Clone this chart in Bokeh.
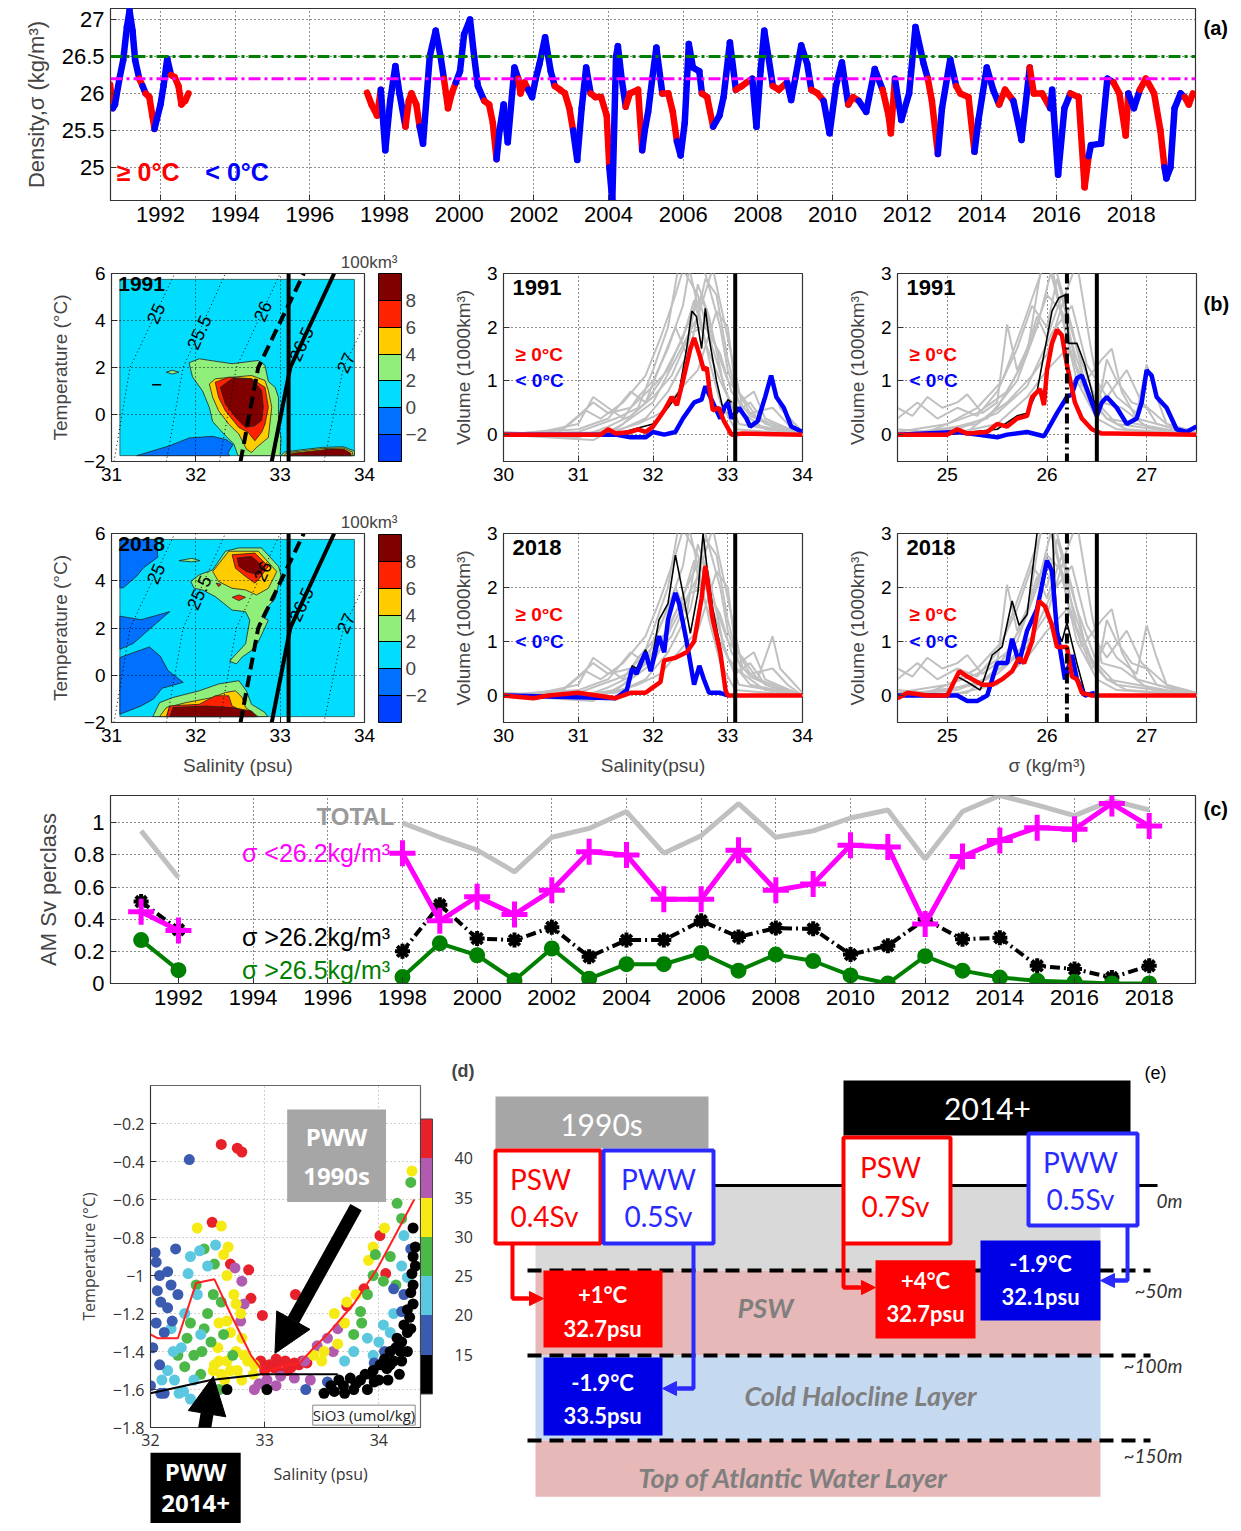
import numpy as np
from bokeh.plotting import figure
from bokeh.layouts import column, row
from bokeh.models import (Range1d, FixedTicker, Label, ColorBar, Spacer,
                          LinearColorMapper, Arrow, NormalHead, ColumnDataSource, Span)
from bokeh.transform import linear_cmap
from bokeh.core.properties import value
from bokeh.embed import file_html
from bokeh.resources import INLINE

FONT = "Liberation Sans"
SCHEM = "Lato"

# ======================= DATA =======================
# (a) density time series: time, sigma, cold flag (1 = T<0C)
t_a = [1990.65, 1990.72, 1990.78, 1990.90, 1991.00, 1991.10, 1991.17, 1991.25, 1991.32, 1991.43,
       1991.52, 1991.60, 1991.70, 1991.78, 1991.84, 1991.90, 1992.00, 1992.08, 1992.18, 1992.28,
       1992.38, 1992.48, 1992.56, 1992.66, 1992.75,
       1997.53, 1997.65, 1997.80, 1997.90, 1998.02, 1998.15, 1998.29, 1998.40, 1998.56, 1998.65,
       1998.72, 1998.85, 1998.94, 1999.03, 1999.21, 1999.37, 1999.50, 1999.59, 1999.70, 1999.80,
       1999.91, 2000.02, 2000.13, 2000.29, 2000.40, 2000.50, 2000.67, 2000.80, 2000.90, 2001.00,
       2001.08, 2001.19, 2001.30, 2001.48, 2001.58, 2001.64, 2001.75, 2001.85, 2001.95, 2002.05,
       2002.15, 2002.30, 2002.45, 2002.56, 2002.70, 2002.83, 2002.95, 2003.05, 2003.16, 2003.28,
       2003.40, 2003.52, 2003.65, 2003.80, 2003.95, 2004.02, 2004.10, 2004.20, 2004.25, 2004.35,
       2004.46, 2004.57, 2004.79, 2004.90, 2004.97, 2005.06, 2005.17, 2005.28, 2005.44, 2005.60,
       2005.72, 2005.83, 2005.93, 2006.04, 2006.15, 2006.26, 2006.43, 2006.50, 2006.64, 2006.80,
       2006.97, 2007.08, 2007.25, 2007.41, 2007.57, 2007.70, 2007.85, 2007.96, 2008.07, 2008.17,
       2008.28, 2008.40, 2008.56, 2008.78, 2008.89, 2009.00, 2009.16, 2009.32, 2009.43, 2009.60,
       2009.76, 2009.92, 2010.09, 2010.25, 2010.42, 2010.55, 2010.70, 2010.90, 2011.13, 2011.34,
       2011.50, 2011.56, 2011.67, 2011.84, 2012.05, 2012.22, 2012.44, 2012.55, 2012.66, 2012.82,
       2012.93, 2013.15, 2013.31, 2013.42, 2013.64, 2013.80, 2013.91, 2014.13, 2014.30, 2014.46,
       2014.62, 2014.84, 2014.95, 2015.06, 2015.28, 2015.39, 2015.61, 2015.83, 2015.88, 2016.04,
       2016.21, 2016.37, 2016.59, 2016.75, 2016.86, 2016.92, 2017.19, 2017.36, 2017.52, 2017.68,
       2017.85, 2017.92, 2018.07, 2018.23, 2018.39, 2018.61, 2018.78, 2018.89, 2018.94, 2019.05,
       2019.16, 2019.32, 2019.43, 2019.54, 2019.65]
sig_a = [26.12, 25.80, 25.85, 26.20, 26.45, 26.90, 27.12, 26.85, 26.45, 26.20,
         26.10, 26.00, 25.95, 25.70, 25.52, 25.65, 25.85, 26.10, 26.47, 26.25,
         26.22, 26.10, 25.85, 25.90, 26.00,
         26.01, 25.85, 25.70, 26.05, 25.23, 25.90, 26.37, 26.00, 25.55, 25.90,
         26.00, 25.85, 25.55, 25.32, 26.50, 26.85, 26.50, 26.20, 25.80, 26.00,
         26.15, 26.30, 26.80, 27.00, 26.50, 26.10, 25.90, 25.85, 25.60, 25.11,
         25.50, 25.85, 25.34, 26.35, 26.20, 26.00, 26.15, 26.05, 25.95, 26.20,
         26.40, 26.76, 26.30, 26.10, 26.05, 26.00, 25.80, 25.50, 25.10, 25.80,
         26.35, 26.00, 25.95, 25.95, 25.70, 25.00, 24.55, 26.50, 26.64, 26.20,
         25.82, 26.00, 26.05, 25.23, 25.50, 25.75, 26.20, 26.62, 26.00, 26.00,
         25.75, 25.35, 25.16, 25.60, 26.67, 26.35, 26.30, 26.00, 25.95, 25.55,
         25.70, 25.95, 26.69, 26.05, 26.10, 26.15, 26.20, 25.55, 26.30, 26.85,
         26.50, 26.10, 26.05, 26.15, 25.91, 26.20, 26.65, 26.40, 26.05, 26.00,
         25.90, 25.46, 26.10, 26.42, 25.85, 25.95, 25.90, 25.75, 26.33, 26.05,
         25.70, 25.46, 26.20, 25.64, 26.00, 26.90, 26.40, 26.20, 25.90, 25.18,
         25.80, 26.46, 26.10, 26.00, 25.95, 25.21, 25.65, 26.35, 26.05, 25.85,
         26.05, 25.90, 25.65, 25.37, 26.35, 26.00, 26.00, 25.80, 26.05, 24.90,
         25.80, 26.00, 25.95, 24.73, 25.15, 25.30, 25.32, 26.20, 26.15, 26.00,
         25.43, 26.00, 25.80, 26.05, 26.20, 26.00, 25.50, 25.00, 24.85, 25.00,
         25.80, 26.00, 25.95, 25.85, 26.00]
cold_a = [0, 0, 1, 1, 1, 1, 1, 1, 1, 1,
          0, 1, 0, 0, 0, 1, 1, 1, 1, 1,
          0, 0, 0, 0, 0,
          0, 0, 0, 0, 1, 1, 1, 1, 1, 0,
          0, 0, 0, 1, 1, 1, 1, 1, 0, 0,
          0, 1, 1, 1, 1, 1, 1, 0, 0, 0,
          1, 1, 1, 1, 1, 0, 0, 0, 1, 1,
          1, 1, 1, 1, 0, 0, 0, 0, 1, 1,
          1, 1, 0, 0, 0, 0, 1, 1, 1, 1,
          1, 0, 0, 0, 1, 1, 1, 1, 1, 0,
          0, 0, 1, 1, 1, 1, 1, 1, 0, 0,
          1, 1, 1, 1, 0, 0, 0, 1, 1, 1,
          1, 1, 0, 0, 1, 1, 1, 1, 1, 0,
          0, 1, 1, 1, 1, 0, 0, 1, 1, 1,
          0, 0, 0, 1, 1, 1, 1, 1, 0, 0,
          1, 1, 1, 0, 0, 0, 1, 1, 1, 1,
          0, 0, 1, 1, 1, 0, 0, 0, 1, 1,
          1, 1, 0, 0, 0, 1, 1, 1, 1, 0,
          0, 0, 1, 1, 0, 0, 0, 0, 1, 1,
          1, 1, 1, 0, 0]
thr_psw = 26.2
thr_pww = 26.5
years_a_ticks = list(range(1992, 2019, 2))

# (b) contour polygons (salinity, temperature); level index 0:-4..-2 1:-2..0 2:0..2 3:2..4 4:4..6 5:6..8 6:8..10
cb_levels = [-4, -2, 0, 2, 4, 6, 8, 10]
cont91_level = [1, 3, 3, 4, 5, 6, 3, 4, 6]
cont91_poly = [
    [(31.3, -1.75), (31.69, -1.33), (31.92, -1.0), (32.2, -0.93), (32.36, -1.07), (32.44, -1.28), (32.38, -1.64), (32.4, -1.75)],
    [(31.92, 2.2), (32.04, 2.37), (32.43, 2.16), (32.74, 2.3), (32.82, 2.09), (32.86, 1.4), (32.94, 1.16), (32.98, 0.73),
     (32.98, -0.4), (33.01, -1.0), (33.0, -1.75), (32.5, -1.75), (32.45, -1.25), (32.35, -0.9), (32.2, -0.3), (32.16, 0.3),
     (32.08, 1.0), (31.96, 1.6)],
    [(31.65, 1.8), (31.72, 1.88), (31.8, 1.8), (31.72, 1.72)],
    [(32.16, 1.3), (32.23, 1.52), (32.66, 1.66), (32.82, 1.45), (32.86, 1.02), (32.9, 0.31), (32.86, -0.98), (32.72, -1.4),
     (32.66, -1.62), (32.6, -1.47), (32.51, -0.83), (32.39, -0.41), (32.27, 0.16), (32.2, 0.73)],
    [(32.23, 1.37), (32.39, 1.59), (32.66, 1.52), (32.82, 1.16), (32.86, 0.31), (32.82, -0.41), (32.78, -0.76), (32.7, -1.12),
     (32.62, -0.76), (32.51, -0.55), (32.35, 0.16), (32.27, 0.73)],
    [(32.29, 1.16), (32.43, 1.52), (32.66, 1.52), (32.78, 1.02), (32.8, 0.31), (32.78, -0.26), (32.7, -0.48), (32.59, -0.55),
     (32.47, -0.12), (32.35, 0.45)],
    [(33.01, -1.75), (33.05, -1.6), (33.25, -1.5), (33.5, -1.4), (33.75, -1.37), (33.88, -1.55), (33.88, -1.75)],
    [(33.04, -1.75), (33.08, -1.63), (33.3, -1.53), (33.5, -1.45), (33.75, -1.42), (33.86, -1.6), (33.86, -1.75)],
    [(33.08, -1.75), (33.15, -1.65), (33.4, -1.55), (33.6, -1.47), (33.75, -1.47), (33.84, -1.65), (33.84, -1.75)],
]
cont18_level = [1, 1, 1, 3, 3, 4, 5, 6, 5, 5, 3, 4, 5, 6]
cont18_poly = [
    [(31.1, 5.75), (31.53, 5.75), (31.55, 5.0), (31.38, 4.55), (31.3, 4.2), (31.14, 3.7), (31.1, 3.7)],
    [(31.1, 2.5), (31.35, 2.35), (31.69, 2.69), (31.45, 1.95), (31.26, 1.35), (31.1, 1.1)],
    [(31.1, 0.75), (31.45, 1.2), (31.58, 0.8), (31.67, 0.2), (31.85, -0.3), (31.6, -0.55), (31.5, -1.0), (31.35, -1.3), (31.1, -1.65)],
    [(31.94, 3.97), (32.04, 4.25), (32.2, 4.46), (32.35, 5.25), (32.51, 5.39), (32.78, 5.39), (32.98, 4.61), (33.01, 4.25),
     (32.94, 3.25), (32.82, 2.76), (32.78, 2.47), (32.86, 2.33), (32.74, 1.41), (32.66, 1.05), (32.55, 0.77), (32.48, 0.48),
     (32.4, 0.6), (32.48, 0.91), (32.59, 1.33), (32.64, 2.33), (32.59, 2.69), (32.43, 2.76), (32.23, 3.33), (32.08, 3.61),
     (31.98, 3.68)],
    [(31.8, 4.85), (31.95, 4.95), (32.05, 4.85), (31.95, 4.8)],
    [(32.2, 4.39), (32.39, 5.25), (32.74, 5.25), (32.96, 4.39), (32.86, 3.68), (32.72, 3.4), (32.59, 3.61), (32.43, 3.68), (32.27, 3.97)],
    [(32.43, 5.1), (32.7, 5.17), (32.86, 4.61), (32.74, 4.04), (32.7, 3.9), (32.59, 4.18), (32.47, 4.53)],
    [(32.49, 4.96), (32.66, 5.03), (32.82, 4.53), (32.74, 4.25), (32.6, 4.39), (32.51, 4.61)],
    [(32.43, 3.3), (32.51, 3.4), (32.59, 3.3), (32.51, 3.16)],
    [(32.24, 3.9), (32.3, 3.85), (32.27, 3.75)],
    [(31.49, -1.75), (31.57, -1.16), (31.73, -0.94), (32.04, -0.66), (32.27, -0.37), (32.51, -0.23), (32.6, -0.66),
     (32.66, -1.23), (32.82, -1.58), (32.85, -1.75)],
    [(31.57, -1.75), (31.65, -1.37), (31.88, -1.16), (32.2, -0.94), (32.35, -0.73), (32.47, -0.66), (32.55, -0.94),
     (32.59, -1.37), (32.74, -1.75)],
    [(31.65, -1.75), (31.69, -1.3), (32.04, -1.23), (32.23, -0.87), (32.39, -0.87), (32.43, -1.3), (32.55, -1.51), (32.7, -1.75)],
    [(31.69, -1.75), (31.73, -1.37), (32.12, -1.3), (32.43, -1.37), (32.66, -1.51), (32.72, -1.75)],
]
# isopycnals: salinity at T = -2, 2, 6
iso_T = [-2, 2, 6]
iso_sig = ["25", "25.5", "26", "26.5", "27"]
iso_S = [[31.03, 31.22, 31.75], [31.65, 31.85, 32.35], [32.28, 32.48, 33.0],
         [32.90, 33.12, 33.64], [33.52, 33.75, 34.3]]
iso_label_T = [4.3, 3.5, 4.4, 3.0, 2.2]
iso262_S = [32.53, 32.74, 33.28]
s_psw_pww = 33.1

# (b) volume distributions (1000 km3)
gray_S = [
    [(30, 0), (30.5, 0.05), (31, 0.2), (31.2, 0.7), (31.4, 0.5), (31.6, 0.3), (31.8, 0.7), (32.0, 1.0), (32.2, 1.6), (32.4, 2.4), (32.5, 3.2), (32.7, 3.0), (32.9, 2.0), (33.0, 1.2), (33.2, 0.4), (33.5, 0.1), (34, 0)],
    [(30, 0), (31, 0.05), (31.5, 0.3), (31.8, 0.5), (32.0, 1.2), (32.2, 2.0), (32.35, 3.2), (32.6, 2.6), (32.8, 1.6), (33.0, 0.7), (33.3, 0.2), (34, 0)],
    [(30, 0), (31, 0), (31.5, 0.1), (32.0, 0.6), (32.3, 1.4), (32.6, 2.2), (32.8, 3.1), (33.0, 1.8), (33.2, 0.5), (33.4, 0.3), (33.6, 1.1), (33.7, 0.5), (34, 0.05)],
    [(30, 0), (31.2, -0.1), (31.6, 0.2), (31.9, 0.6), (32.1, 1.0), (32.4, 1.8), (32.55, 2.5), (32.7, 1.7), (32.9, 1.0), (33.1, 0.4), (33.3, 0.6), (33.5, 0.2), (34, 0)],
    [(30, 0), (31, 0.1), (31.4, 0.3), (31.7, 0.8), (31.9, 0.6), (32.1, 1.3), (32.3, 2.0), (32.45, 1.5), (32.6, 2.8), (32.75, 2.2), (32.95, 0.9), (33.15, 0.2), (34, 0)],
    [(30, 0), (31.3, 0), (31.8, 0.2), (32.1, 0.4), (32.4, 0.9), (32.6, 1.2), (32.85, 2.3), (33.0, 2.0), (33.1, 0.9), (33.3, 0.4), (33.6, 0.5), (33.8, 0.2), (34, 0)],
    [(30, 0.05), (30.7, 0.0), (31.0, 0.35), (31.2, 0.6), (31.4, 0.4), (31.7, 0.5), (32.0, 0.9), (32.2, 1.2), (32.45, 2.0), (32.65, 2.6), (32.8, 1.8), (33.0, 1.0), (33.2, 0.7), (33.4, 0.3), (34, 0.0)],
    [(30, 0), (30.8, 0.1), (31.1, 0.45), (31.3, 0.3), (31.6, 0.6), (31.9, 1.1), (32.1, 1.8), (32.3, 2.6), (32.45, 3.3), (32.6, 2.4), (32.75, 1.4), (32.9, 0.6), (33.1, 0.1), (34, 0)],
    [(30, 0), (31.5, 0.05), (31.9, 0.3), (32.2, 0.8), (32.5, 1.6), (32.7, 2.9), (32.85, 2.6), (33.0, 1.4), (33.15, 0.6), (33.35, 0.8), (33.5, 0.3), (34, 0)],
    [(30, 0), (31.0, -0.05), (31.4, 0.15), (31.7, 0.35), (32.0, 0.7), (32.25, 1.1), (32.5, 1.9), (32.7, 2.0), (32.9, 1.5), (33.05, 0.8), (33.3, 0.35), (33.6, 0.15), (34, 0)],
]
gray_sig = [
    [(24.5, 0.5), (24.65, 0.35), (24.8, 0.7), (24.95, 0.5), (25.1, 0.6), (25.2, 0.75), (25.35, 0.4), (25.5, 0.6), (25.6, 2.05), (25.7, 1.2), (25.85, 1.8), (26.0, 2.6), (26.15, 2.3), (26.3, 1.4), (26.45, 0.6), (26.6, 0.3), (27.5, 0.0)],
    [(24.5, 0.1), (24.8, 0.05), (25.0, 0.2), (25.3, 0.4), (25.6, 0.8), (25.8, 1.5), (25.95, 3.2), (26.1, 3.0), (26.25, 2.0), (26.4, 0.8), (26.6, 0.3), (26.8, 0.1), (27.5, 0)],
    [(24.5, 0), (25.0, 0.1), (25.4, 0.3), (25.7, 1.0), (25.9, 2.0), (26.05, 3.1), (26.2, 1.8), (26.35, 0.9), (26.55, 1.4), (26.65, 1.6), (26.75, 0.8), (26.9, 0.3), (27.5, 0)],
    [(24.5, 0), (25.2, 0.05), (25.5, 0.5), (25.75, 1.3), (25.9, 2.2), (26.0, 1.8), (26.15, 2.6), (26.3, 1.2), (26.45, 0.5), (26.6, 1.0), (26.7, 0.7), (26.9, 0.4), (27.0, 1.3), (27.1, 0.7), (27.2, 0.2), (27.5, 0.05)],
    [(24.5, 0), (24.9, 0.1), (25.3, 0.2), (25.6, 0.6), (25.85, 1.1), (26.0, 1.5), (26.2, 2.7), (26.3, 3.2), (26.45, 1.5), (26.55, 0.6), (26.75, 0.5), (27.0, 0.15), (27.3, 0.0), (27.4, 0.1), (27.5, 0)],
    [(24.5, 0), (25.0, 0.0), (25.5, 0.2), (25.8, 0.7), (26.0, 1.2), (26.2, 1.6), (26.4, 0.9), (26.5, 0.4), (26.6, 1.4), (26.7, 1.0), (26.85, 0.6), (27.0, 0.5), (27.1, 0.2), (27.5, 0)],
    [(24.5, 0.05), (25.0, 0.2), (25.3, 0.5), (25.55, 1.0), (25.75, 2.0), (25.9, 2.8), (26.0, 3.3), (26.15, 2.2), (26.3, 1.0), (26.5, 0.3), (26.7, 0.1), (27.5, 0)],
    [(24.5, 0), (25.1, 0.1), (25.5, 0.4), (25.8, 0.9), (26.05, 1.9), (26.25, 2.4), (26.4, 1.3), (26.6, 0.7), (26.8, 1.2), (26.95, 0.6), (27.2, 0.2), (27.5, 0)],
    [(24.5, 0.3), (24.7, 0.6), (24.9, 0.3), (25.1, 0.5), (25.3, 0.35), (25.5, 0.8), (25.7, 1.6), (25.85, 2.4), (26.0, 2.0), (26.1, 2.9), (26.3, 1.6), (26.5, 0.6), (26.7, 0.2), (27.5, 0)],
]
v91_S_total = [(30, 0), (31.3, 0), (31.6, 0.05), (32.0, 0.2), (32.2, 0.5), (32.35, 0.8), (32.45, 1.6), (32.52, 2.3), (32.58, 2.2), (32.65, 1.6), (32.7, 2.35), (32.75, 1.8), (32.85, 1.0), (32.95, 0.4), (33.0, 0.65), (33.05, 0.6)]
v91_S_warm = [(30, 0), (31.3, 0), (31.4, 0.1), (31.5, 0.02), (31.7, 0.05), (31.8, 0.1), (31.9, 0.05), (32.0, 0.15), (32.05, 0.25), (32.15, 0.45), (32.25, 0.7), (32.32, 0.55), (32.4, 1.0), (32.5, 1.6), (32.55, 1.8), (32.62, 1.5), (32.68, 1.2), (32.72, 1.25), (32.75, 0.9), (32.8, 0.45), (32.88, 0.5), (32.95, 0.25), (33.05, 0.0), (33.2, 0.02), (34, 0.0)]
v91_S_cold = [(30, 0), (31.5, 0), (31.7, -0.05), (31.9, -0.05), (32.0, 0.05), (32.15, 0.0), (32.3, 0.05), (32.4, 0.3), (32.55, 0.6), (32.65, 0.65), (32.7, 0.9), (32.8, 0.6), (32.9, 0.3), (32.95, 0.5), (33.0, 0.6), (33.05, 0.3), (33.15, 0.5), (33.25, 0.3), (33.3, 0.15), (33.4, 0.25), (33.5, 0.7), (33.58, 1.1), (33.65, 0.7), (33.75, 0.5), (33.85, 0.15), (34, 0.05)]
v91_sig_total = [(24.5, 0), (25.0, 0), (25.5, 0.1), (25.7, 0.35), (25.8, 0.4), (25.9, 0.8), (26.05, 2.3), (26.12, 2.55), (26.18, 2.6), (26.22, 1.7), (26.3, 1.7), (26.38, 1.3), (26.45, 0.8), (26.5, 0.4)]
v91_sig_warm = [(24.5, 0), (25.0, 0), (25.1, 0.1), (25.2, 0.02), (25.4, 0.05), (25.5, 0.2), (25.6, 0.15), (25.7, 0.3), (25.8, 0.35), (25.85, 0.7), (25.93, 0.85), (25.97, 0.55), (26.0, 1.2), (26.05, 1.7), (26.1, 1.95), (26.15, 1.85), (26.2, 1.3), (26.28, 0.6), (26.35, 0.3), (26.45, 0.1), (26.55, 0.02), (26.65, 0.02), (27.5, 0)]
v91_sig_cold = [(24.5, 0), (25.1, 0.05), (25.3, 0.0), (25.5, -0.05), (25.6, 0.0), (25.8, 0.05), (25.97, -0.03), (26.1, 0.4), (26.2, 0.7), (26.25, 0.75), (26.3, 1.05), (26.35, 1.1), (26.45, 0.6), (26.5, 0.35), (26.55, 0.6), (26.6, 0.7), (26.7, 0.5), (26.8, 0.2), (26.9, 0.3), (26.95, 0.6), (27.0, 1.2), (27.05, 1.1), (27.1, 0.7), (27.2, 0.5), (27.3, 0.1), (27.4, 0.05), (27.5, 0.15)]
v18_S_total = [(31.65, 0.1), (31.72, 0.55), (31.78, 0.5), (31.9, 0.85), (31.97, 0.55), (32.08, 1.4), (32.2, 1.7), (32.3, 2.6), (32.4, 1.9), (32.5, 1.15), (32.6, 1.9), (32.67, 3.0), (32.72, 2.4), (32.8, 1.6), (32.9, 0.9), (32.97, 0.2)]
v18_S_warm = [(30, 0), (30.4, -0.05), (30.6, 0), (31.0, 0.05), (31.5, -0.05), (31.7, 0.05), (31.9, 0.05), (32.0, 0.15), (32.1, 0.25), (32.15, 0.65), (32.3, 0.7), (32.45, 0.8), (32.55, 1.0), (32.65, 1.8), (32.7, 2.4), (32.75, 1.9), (32.8, 1.4), (32.9, 0.8), (32.97, 0.1), (33.0, 0), (34, 0)]
v18_S_cold = [(30, 0), (31.5, -0.05), (31.65, 0.1), (31.72, 0.5), (31.78, 0.4), (31.9, 0.8), (31.97, 0.45), (32.08, 1.1), (32.15, 0.8), (32.2, 1.4), (32.3, 1.9), (32.35, 1.7), (32.45, 1.0), (32.55, 0.2), (32.62, 0.55), (32.68, 0.3), (32.75, 0.05), (32.9, 0.05), (33.0, 0)]
v18_sig_total = [(25.0, 0), (25.1, 0.35), (25.2, 0.25), (25.33, 0.1), (25.45, 0.75), (25.55, 0.9), (25.65, 1.75), (25.72, 1.3), (25.8, 1.5), (25.9, 3.0), (26.0, 3.3), (26.05, 3.2), (26.1, 1.2), (26.15, 1.0), (26.2, 1.35), (26.3, 0.6), (26.38, 0.05)]
v18_sig_warm = [(24.5, -0.05), (24.6, 0.05), (24.8, 0.0), (25.0, 0.0), (25.08, 0.3), (25.12, 0.45), (25.2, 0.35), (25.35, 0.2), (25.45, 0.2), (25.55, 0.3), (25.65, 0.45), (25.72, 0.7), (25.77, 0.6), (25.85, 1.0), (25.92, 1.75), (25.98, 1.65), (26.05, 1.3), (26.1, 0.9), (26.2, 0.9), (26.25, 0.35), (26.3, 0.3), (26.35, 0.05), (26.45, 0.0), (27.5, 0)]
v18_sig_cold = [(24.5, 0), (25.0, 0), (25.1, 0.0), (25.2, -0.1), (25.3, -0.1), (25.4, 0.0), (25.45, 0.3), (25.5, 0.6), (25.6, 0.6), (25.65, 1.05), (25.72, 0.6), (25.8, 1.2), (25.9, 1.6), (26.0, 2.5), (26.05, 2.3), (26.1, 1.2), (26.18, 0.3), (26.25, 0.75), (26.3, 0.3), (26.38, 0.0), (26.48, 0.05)]

# (c) annual mean transports per class (Sv)
years_c = [1991, 1992, 1998, 1999, 2000, 2001, 2002, 2003, 2004, 2005, 2006, 2007, 2008,
           2009, 2010, 2011, 2012, 2013, 2014, 2015, 2016, 2017, 2018]
total_c = [0.95, 0.66, 1.0, 0.91, 0.83, 0.695, 0.91, 0.965, 1.07, 0.81, 0.92, 1.12, 0.91,
           0.95, 1.03, 1.08, 0.775, 1.07, 1.17, 1.11, 1.045, 1.14, 1.08]
light_c = [0.446, 0.33, 0.81, 0.39, 0.54, 0.43, 0.58, 0.82, 0.80, 0.525, 0.525, 0.83, 0.58,
           0.62, 0.86, 0.85, 0.37, 0.79, 0.89, 0.97, 0.96, 1.12, 0.98]
dense_c = [0.51, 0.335, 0.2, 0.49, 0.28, 0.27, 0.35, 0.166, 0.27, 0.27, 0.39, 0.29, 0.345,
           0.34, 0.18, 0.235, 0.40, 0.275, 0.285, 0.11, 0.09, 0.037, 0.11]
vdense_c = [0.27, 0.083, 0.04, 0.25, 0.176, 0.02, 0.218, 0.03, 0.12, 0.12, 0.19, 0.08, 0.18,
            0.14, 0.05, 0.0, 0.17, 0.08, 0.037, 0.017, 0.01, 0.0, 0.0]

# (d) T-S scatter, one list per SiO3 class (umol/kg)
si_classes = [42, 37, 32, 27, 22, 17, 12]
si42_pts = [(32.62, -0.31), (32.76, -0.33), (32.8, -0.35), (32.54, -0.72), (32.7, -0.94), (32.86, -0.97), (32.88, -1.12),
            (32.98, -1.21), (33.27, -1.1), (34.01, -0.79), (34.06, -0.99), (33.87, -1.07), (33.72, -1.16),
            (32.965, -1.45), (33.04, -1.47), (33.11, -1.46), (33.18, -1.45), (33.26, -1.46), (33.33, -1.45),
            (33.08, -1.485), (33.23, -1.485), (33.37, -1.46), (33.14, -1.51), (33.0, -1.5), (33.2, -1.5),
            (33.3, -1.47), (33.1, -1.44)]
si37_pts = [(32.8, -1.03), (32.74, -0.96), (32.79, -1.24), (32.91, -1.6), (33.02, -1.55), (33.14, -1.53), (33.26, -1.54),
            (33.55, -1.33), (33.46, -1.37), (33.64, -1.28), (32.82, -1.15), (32.95, -1.57), (33.1, -1.58),
            (33.35, -1.45), (33.4, -1.55), (33.6, -1.4)]
si32_pts = [(32.41, -0.75), (32.62, -0.74), (32.64, -0.89), (32.67, -1.0), (32.73, -1.1), (32.79, -1.2), (32.8, -1.33),
            (32.67, -1.24), (32.59, -1.38), (32.56, -1.47), (32.67, -1.45), (32.82, -1.42), (32.91, -1.47), (32.76, -1.5),
            (32.62, -1.52), (34.29, -0.45), (33.91, -0.92), (33.72, -1.14), (33.61, -1.2), (33.52, -1.4), (33.43, -1.42),
            (33.64, -1.36), (32.6, -1.45), (32.7, -1.5), (32.75, -1.4), (32.85, -1.45), (32.9, -1.52), (32.8, -1.55),
            (32.65, -1.55), (32.55, -1.5), (32.7, -1.3), (32.6, -1.25), (32.75, -1.15), (32.68, -0.85), (33.5, -1.45),
            (33.7, -1.25), (33.8, -1.1), (34.05, -0.75), (33.95, -0.85)]
si27_pts = [(32.47, -0.86), (32.56, -0.94), (32.62, -1.14), (32.47, -1.28), (32.53, -1.35), (32.38, -1.42), (32.24, -1.42),
            (32.44, -1.52), (32.32, -1.33), (32.72, -1.42), (32.64, -1.31), (34.16, -0.62), (34.28, -0.51), (33.97, -0.89),
            (34.04, -1.03), (33.84, -1.19), (33.9, -1.1), (33.78, -1.31), (32.35, -1.25), (32.45, -1.4), (32.5, -1.2),
            (32.4, -1.05), (32.3, -1.48), (32.55, -1.1), (32.6, -1.6), (33.95, -1.0), (34.1, -0.9), (34.15, -1.05),
            (33.85, -1.25), (34.2, -0.7)]
si22_pts = [(32.43, -0.87), (32.33, -0.99), (32.41, -1.1), (32.57, -0.84), (32.18, -1.28), (32.27, -1.38), (32.15, -1.5),
            (32.21, -1.55), (32.29, -1.61), (32.38, -1.55), (32.44, -1.31), (34.22, -0.79), (34.13, -1.2), (34.04, -1.26),
            (33.9, -1.33), (33.78, -1.4), (34.25, -1.01), (32.1, -1.55), (32.25, -1.62), (32.35, -1.65), (32.2, -1.4),
            (32.3, -1.2), (32.35, -0.9), (32.5, -0.95), (34.1, -1.3), (34.0, -1.35), (33.95, -1.42), (34.2, -0.95),
            (33.7, -1.45)]
si17_pts = [(32.34, -0.39), (32.04, -0.88), (32.05, -0.93), (32.22, -0.86), (32.15, -0.98), (32.06, -1.08), (32.09, -1.14),
            (32.15, -1.17), (32.24, -1.1), (32.19, -1.24), (32.02, -1.38), (32.08, -1.47), (32.0, -1.58), (32.09, -1.62),
            (33.36, -1.6), (33.55, -1.56), (34.13, -1.07), (34.2, -1.19), (33.96, -1.46), (34.28, -0.86), (32.05, -1.25),
            (32.12, -1.3), (32.08, -1.0), (32.18, -1.05), (32.12, -1.62), (34.05, -1.4), (34.22, -1.1)]
si12_pts = [(33.61, -1.61), (33.69, -1.58), (33.78, -1.6), (33.84, -1.55), (33.93, -1.52), (34.01, -1.47), (34.1, -1.4),
            (34.16, -1.33), (34.22, -1.26), (34.25, -1.18), (34.28, -1.09), (34.29, -0.99), (34.3, -0.9), (34.28, -1.28),
            (34.19, -1.4), (34.07, -1.49), (33.96, -1.56), (33.75, -1.54), (34.13, -1.45), (32.67, -1.6), (33.02, -1.6),
            (33.65, -1.55), (33.7, -1.62), (33.8, -1.57), (33.9, -1.6), (33.95, -1.5), (34.0, -1.55), (34.05, -1.44),
            (34.1, -1.47), (34.15, -1.38), (34.2, -1.35), (34.2, -1.45), (34.25, -1.3), (34.27, -1.22), (34.3, -1.15),
            (34.3, -1.05), (34.32, -0.95), (34.32, -0.85), (34.3, -0.75), (34.25, -1.4), (34.18, -1.52), (33.88, -1.52),
            (34.08, -1.55), (33.58, -1.58), (33.52, -1.62)]
d_mean90_S = [32.0, 32.06, 32.24, 32.4, 32.56, 32.7, 32.88, 32.99, 33.14, 33.31, 33.43, 33.55, 33.78, 33.99, 34.16, 34.31]
d_mean90_T = [-1.31, -1.33, -1.33, -1.04, -1.02, -1.2, -1.42, -1.51, -1.48, -1.46, -1.38, -1.31, -1.15, -0.96, -0.77, -0.6]
d_mean14_S = [32.0, 32.53, 32.97, 33.64]
d_mean14_T = [-1.62, -1.55, -1.52, -1.52]
si_bounds = [10, 45]
si_ticks = [15, 20, 25, 30, 35, 40]

# (e) schematic content
e_depth_marks = [0, 50, 100, 150]
e_depth_names = ["0m", "~50m", "~100m", "~150m"]
e_layer_names = ["PSW", "Cold Halocline Layer", "Top of Atlantic Water Layer"]
e_layer_top = [50, 100, 150]
e_layer_bot = [100, 150, 183]
e_periods = ["1990s", "2014+"]
e_psw_sv = ["0.4Sv", "0.7Sv"]
e_pww_sv = ["0.5Sv", "0.5Sv"]
e_psw_props = [("+1°C", "32.7psu"), ("+4°C", "32.7psu")]
e_pww_props = [("-1.9°C", "33.5psu"), ("-1.9°C", "32.1psu")]

# ======================= HELPERS =======================
def mkfig(w, h, xr, yr, bl, br, bt, bb, fs="22px"):
    p = figure(width=w, height=h, x_range=Range1d(*xr), y_range=Range1d(*yr),
               output_backend="svg", toolbar_location=None,
               min_border_left=bl, min_border_right=br, min_border_top=bt, min_border_bottom=bb)
    p.outline_line_color = "#333333"
    p.outline_line_width = 1.2
    for ax in p.axis:
        ax.major_tick_in = 6
        ax.major_tick_out = 0
        ax.minor_tick_line_color = None
        ax.axis_line_color = "#333333"
        ax.major_tick_line_color = "#333333"
        ax.major_label_text_font = FONT
        ax.major_label_text_font_size = fs
        ax.major_label_text_color = "black"
        ax.axis_label_text_font = FONT
        ax.axis_label_text_font_size = fs
        ax.axis_label_text_font_style = "normal"
        ax.major_label_standoff = 6
        ax.axis_label_standoff = 10
    p.grid.grid_line_color = "black"
    p.grid.grid_line_dash = "1 3"
    p.grid.grid_line_alpha = 0.9
    return p


def blank_fig(w, h, xr, yr, **kw):
    p = figure(width=w, height=h, x_range=Range1d(*xr), y_range=Range1d(*yr),
               output_backend="svg", toolbar_location=None, **kw)
    p.axis.visible = False
    p.grid.visible = False
    p.outline_line_color = None
    return p


def letter_fig(w, h, text, ypx):
    p = blank_fig(w, h, (0, w), (h, 0), min_border=0)
    p.text(x=[3], y=[ypx], text=[text], text_font=value(FONT), text_font_style="bold",
           text_font_size="20px", text_color="black", text_align="left", text_baseline="middle")
    return p


def xy(pts):
    return [q[0] for q in pts], [q[1] for q in pts]


def lab(p, x, y, text, color="black", size="20px", bold=True, align="left", font=FONT, **kw):
    p.add_layout(Label(x=x, y=y, text=text, text_color=color, text_font_size=size,
                       text_font=font, text_font_style="bold" if bold else "normal",
                       text_align=align, text_baseline="middle", **kw))


# ======================= (a) =======================
pa = mkfig(1200, 245, (1990.66, 2019.72), (24.55, 27.15), 110, 5, 8, 45)
pa.xaxis.ticker = FixedTicker(ticks=years_a_ticks)
pa.yaxis.ticker = FixedTicker(ticks=[25, 25.5, 26, 26.5, 27])
pa.yaxis.major_label_overrides = {25: "25", 25.5: "25.5", 26: "26", 26.5: "26.5", 27: "27"}
pa.yaxis.axis_label = "Density,σ (kg/m³)"
x0, y0, x1, y1, cols = [], [], [], [], []
for i in range(len(t_a) - 1):
    if t_a[i + 1] - t_a[i] > 1:
        continue
    x0.append(t_a[i]); y0.append(sig_a[i]); x1.append(t_a[i + 1]); y1.append(sig_a[i + 1])
    cols.append("#0000ff" if cold_a[i + 1] else "#ff0000")
pa.segment(x0, y0, x1, y1, color=cols, line_width=6.5, line_cap="round")
pa.add_layout(Span(location=thr_pww, dimension="width", line_color="#008000", line_width=3, line_dash="12 4 3 4"))
pa.add_layout(Span(location=thr_psw, dimension="width", line_color="#ff00ff", line_width=3, line_dash="12 4 3 4"))
lab(pa, 1990.83, 24.94, "≥ 0°C", "#ff0000", "25px")
lab(pa, 1993.2, 24.94, "< 0°C", "#0000ff", "25px")
la = letter_fig(33, 245, "(a)", 25)

# ======================= (b) =======================
C_LEV = ["#0040ff", "#0070ff", "#00ddff", "#90ee7a", "#ffcc00", "#ff2200", "#800000"]


def contour_fig(year, levels, polys, h, bb, xlabel):
    p = mkfig(444, h, (31, 34), (-2, 6), 111, 77, 28, bb, fs="19px")
    p.xaxis.ticker = FixedTicker(ticks=[31, 32, 33, 34])
    p.yaxis.ticker = FixedTicker(ticks=[-2, 0, 2, 4, 6])
    p.yaxis.axis_label = "Temperature (°C)"
    if xlabel:
        p.xaxis.axis_label = xlabel
    p.grid.level = "overlay"
    p.title.text = "100km³"
    p.title.align = "right"
    p.title.offset = -33
    p.title.standoff = 3
    p.title.text_font = FONT
    p.title.text_font_size = "17px"
    p.title.text_font_style = "normal"
    p.quad(left=[31.1], right=[33.88], bottom=[-1.75], top=[5.75], fill_color=C_LEV[2], line_color="#2f6f6f", line_width=1)
    order = sorted(range(len(levels)), key=lambda k: levels[k])
    for k in order:
        xs, ys = xy(polys[k])
        p.patch(xs, ys, fill_color=C_LEV[levels[k]], line_color="#222222", line_width=0.8)
    for j, s in enumerate(iso_sig):
        p.line(iso_S[j], iso_T, line_color="black", line_dash="1 3", line_width=1)
        sl = float(np.interp(iso_label_T[j], iso_T, iso_S[j]))
        p.text([sl], [iso_label_T[j]], text=[s], angle=1.15, text_font_size="18px", text_font=value(FONT),
               text_align="center", text_baseline="middle", text_color="black")
    p.line(iso262_S, iso_T, line_color="black", line_width=4, line_dash="12 6")
    p.line(iso_S[3], iso_T, line_color="black", line_width=4)
    p.add_layout(Span(location=s_psw_pww, dimension="height", line_color="black", line_width=4))
    lab(p, 31.08, 5.55, str(year), "black", "21px")
    cm = LinearColorMapper(palette=C_LEV, low=cb_levels[0], high=cb_levels[-1])
    cb = ColorBar(color_mapper=cm, ticker=FixedTicker(ticks=cb_levels[1:-1]), width=23, height=188,
                  location="center", padding=14, margin=0, label_standoff=4,
                  major_label_text_font_size="19px", major_label_text_font=FONT,
                  major_tick_line_color="black", major_tick_in=23, major_tick_out=0,
                  bar_line_color="black", border_line_color=None, background_fill_alpha=0)
    p.add_layout(cb, "right")
    return p


def vol_fig(year, gray, tot, warm, cold, xr, ticks, h, bb, xlabel, spans, bl, br, w):
    p = mkfig(w, h, xr, (-0.5, 3), bl, br, 28, bb, fs="19px")
    p.xaxis.ticker = FixedTicker(ticks=ticks)
    p.yaxis.ticker = FixedTicker(ticks=[0, 1, 2, 3])
    p.yaxis.axis_label = "Volume (1000km³)"
    if xlabel:
        p.xaxis.axis_label = xlabel
    for g in gray:
        xs, ys = xy(g)
        p.line(xs, ys, line_color="#c0c0c0", line_width=2)
    xs, ys = xy(tot); p.line(xs, ys, line_color="black", line_width=1.6)
    xs, ys = xy(cold); p.line(xs, ys, line_color="#0000ff", line_width=4.5)
    xs, ys = xy(warm); p.line(xs, ys, line_color="#ff0000", line_width=4.5)
    for loc, dash in spans:
        p.add_layout(Span(location=loc, dimension="height", line_color="black", line_width=4, line_dash=dash))
    x0 = xr[0] + 0.03 * (xr[1] - xr[0])
    lab(p, x0, 2.74, str(year), "black", "22px")
    lab(p, x0 + 0.01 * (xr[1] - xr[0]), 1.5, "≥ 0°C", "#ff0000", "19px")
    lab(p, x0 + 0.01 * (xr[1] - xr[0]), 1.0, "< 0°C", "#0000ff", "19px")
    return p


pb1 = contour_fig(1991, cont91_level, cont91_poly, 260, 44, None)
pb1.line([31.48, 31.59], [1.27, 1.27], line_color="black", line_width=1.5)
pb2 = vol_fig(1991, gray_S, v91_S_total, v91_S_warm, v91_S_cold, (30, 34), [30, 31, 32, 33, 34], 260, 44, None,
              [(s_psw_pww, "solid")], 59, 28, 386)
pb3 = vol_fig(1991, gray_sig, v91_sig_total, v91_sig_warm, v91_sig_cold, (24.5, 27.5), [25, 26, 27], 260, 44, None,
              [(thr_psw, "10 4 2 4"), (thr_pww, "solid")], 67, 4, 370)
lb = letter_fig(33, 260, "(b)", 42)
pb4 = contour_fig(2018, cont18_level, cont18_poly, 285, 68, "Salinity (psu)")
pb5 = vol_fig(2018, gray_S, v18_S_total, v18_S_warm, v18_S_cold, (30, 34), [30, 31, 32, 33, 34], 285, 68, "Salinity(psu)",
              [(s_psw_pww, "solid")], 59, 28, 386)
pb6 = vol_fig(2018, gray_sig, v18_sig_total, v18_sig_warm, v18_sig_cold, (24.5, 27.5), [25, 26, 27], 285, 68, "σ (kg/m³)",
              [(thr_psw, "10 4 2 4"), (thr_pww, "solid")], 67, 4, 370)

# ======================= (c) =======================
pc = mkfig(1200, 250, (1990.18, 2019.24), (0, 1.17), 110, 5, 5, 57)
pc.xaxis.ticker = FixedTicker(ticks=years_a_ticks)
pc.yaxis.ticker = FixedTicker(ticks=[0, 0.2, 0.4, 0.6, 0.8, 1])
pc.yaxis.major_label_overrides = {0: "0", 0.2: "0.2", 0.4: "0.4", 0.6: "0.6", 0.8: "0.8", 1: "1"}
pc.yaxis.axis_label = "AM Sv perclass"


def gapped(xs, ys):
    ox, oy = [], []
    for i, (a, b) in enumerate(zip(xs, ys)):
        if i > 0 and a - xs[i - 1] > 1:
            ox.append(np.nan); oy.append(np.nan)
        ox.append(a); oy.append(b)
    return ox, oy


gx, gy = gapped(years_c, total_c)
pc.line(gx, gy, line_color="#c0c0c0", line_width=5)
gx, gy = gapped(years_c, dense_c)
pc.line(gx, gy, line_color="black", line_width=4, line_dash="10 4 2 4")
pc.scatter(years_c, dense_c, marker="asterisk", size=15, line_color="black", line_width=4)
gx, gy = gapped(years_c, vdense_c)
pc.line(gx, gy, line_color="#008000", line_width=4)
pc.scatter(years_c, vdense_c, marker="circle", size=14, fill_color="#008000", line_color="#008000", line_width=2)
gx, gy = gapped(years_c, light_c)
pc.line(gx, gy, line_color="#ff00ff", line_width=5)
pc.scatter(years_c, light_c, marker="cross", size=26, line_color="#ff00ff", line_width=5)
lab(pc, 1995.7, 1.04, "TOTAL", "#9a9a9a", "24px")
lab(pc, 1993.7, 0.81, "σ <26.2kg/m³", "#ff00ff", "25px", bold=False)
lab(pc, 1993.7, 0.29, "σ >26.2kg/m³", "black", "25px", bold=False)
lab(pc, 1993.7, 0.085, "σ >26.5kg/m³", "#008000", "25px", bold=False)
lc = letter_fig(33, 250, "(c)", 18)

# ======================= (d) =======================
D_PAL = ["#000000", "#3a5bb0", "#5cc8e0", "#4cb848", "#f5ea14", "#b05ab0", "#e8202a"]
D_XR = (32.0, 34.365)
pd_ = mkfig(490, 412, D_XR, (-1.8, 0.0), 150, 70, 45, 25, fs="16px")
for ax in pd_.axis:
    ax.major_label_text_font = "Open Sans"
    ax.axis_label_text_font = "Open Sans"
    ax.major_label_text_color = "#333333"
pd_.xaxis.ticker = FixedTicker(ticks=[32, 33, 34])
ytk = [-1.8, -1.6, -1.4, -1.2, -1.0, -0.8, -0.6, -0.4, -0.2]
pd_.yaxis.ticker = FixedTicker(ticks=ytk)
pd_.yaxis.major_label_overrides = {v: ("−%g" % abs(v)) for v in ytk}
pd_.yaxis.axis_label = "Temperature (°C)"
pd_.grid.grid_line_color = "#999999"
pd_.outline_line_color = "#666666"
pd_.title.text = "(d)"
pd_.title.align = "right"
pd_.title.offset = -54
pd_.title.text_font = FONT
pd_.title.text_font_size = "18px"
pd_.title.text_font_style = "bold"
ds, dt, dsi = [], [], []
for cls, pts in zip(si_classes, [si42_pts, si37_pts, si32_pts, si27_pts, si22_pts, si17_pts, si12_pts]):
    for (a, b) in pts:
        ds.append(a); dt.append(b); dsi.append(cls)
src_d = ColumnDataSource(dict(S=ds, T=dt, si=dsi))
pd_.scatter("S", "T", source=src_d, size=11, line_color=None,
            fill_color=linear_cmap("si", D_PAL, si_bounds[0], si_bounds[1]))
pd_.line(d_mean90_S, d_mean90_T, line_color="#ff2020", line_width=2)
pd_.line(d_mean14_S, d_mean14_T, line_color="black", line_width=2)
cmd = LinearColorMapper(palette=D_PAL, low=si_bounds[0], high=si_bounds[1])
cbd = ColorBar(color_mapper=cmd, ticker=FixedTicker(ticks=si_ticks), width=12, height=275,
               location="center", padding=0, margin=0, label_standoff=22,
               major_label_text_font_size="16px", major_label_text_font="Open Sans",
               major_label_text_color="#333333", major_tick_line_color=None,
               bar_line_color="#444444", border_line_color=None, background_fill_alpha=0)
pd_.add_layout(cbd, "right")
pd_.add_layout(Label(x=33.87, y=-1.735, text="SiO3 (umol/kg)", text_font="Open Sans", text_font_size="15px",
                     text_color="#222222", text_align="center", text_baseline="middle",
                     background_fill_color="white", border_line_color="#888888"))
pd_.add_layout(Arrow(end=NormalHead(size=38, fill_color="black", line_color="black"),
                     x_start=33.8, y_start=-0.64, x_end=33.09, y_end=-1.41, line_color="black", line_width=13))
pd_.add_layout(Arrow(end=NormalHead(size=38, fill_color="black", line_color="black"),
                     x_start=32.42, y_start=-2.0, x_end=32.55, y_end=-1.53, line_color="black", line_width=13))
pd_.add_layout(Label(x=33.63, y=-0.37, text="PWW\n1990s", text_font="Open Sans", text_font_size="24px",
                     text_font_style="bold", text_color="white", text_align="center", text_baseline="middle",
                     background_fill_color="#a6a6a6", padding=(16, 10)))
# strip below (d): box "PWW 2014+" and the salinity axis title, on the same salinity scale
pd2 = blank_fig(490, 71, D_XR, (-2.305, -1.9316), min_border_left=150, min_border_right=70,
                min_border_top=0, min_border_bottom=0)
pd2.quad(left=[31.81], right=[32.79], top=[-1.9316], bottom=[-2.305], fill_color="black", line_color=None)
pd2.text(x=[32.395, 32.395], y=[-2.03, -2.2], text=["PWW", "2014+"], text_font=value("Open Sans"),
         text_font_style="bold", text_font_size="24px", text_color="white", text_align="center",
         text_baseline="middle")
pd2.text(x=[33.49], y=[-2.045], text=["Salinity (psu)"], text_font=value("Open Sans"), text_font_size="16px",
         text_color="#333333", text_align="center", text_baseline="middle")

# ======================= (e) =======================
pe = blank_fig(743, 483, (0, 743), (198.8, -85.3), min_border=0)
LX0, LX1 = 45, 610
pe.quad(left=[LX0], right=[LX1], top=[0], bottom=[e_layer_top[0]], fill_color="#d9d9d9", line_color=None)
pe.quad(left=LX0, right=LX1, top=e_layer_top, bottom=e_layer_bot,
        fill_color=["#e6b8b7", "#c5d9f1", "#e6b8b7"], line_color=None)
pe.segment(x0=[223], y0=[e_depth_marks[0]], x1=[667], y1=[e_depth_marks[0]], line_color="black", line_width=3)
pe.segment(x0=37, y0=e_depth_marks[1:], x1=660, y1=e_depth_marks[1:], line_color="black", line_width=4, line_dash="14 8")
pe.text(x=692, y=[9, 62, 106, 159], text=e_depth_names, text_font=value(SCHEM), text_font_style="italic",
        text_font_size="19px", text_color="#333333", text_align="right", text_baseline="middle")
pe.text(x=[275, 370, 303], y=[72, 123.5, 172], text=e_layer_names, text_font=value(SCHEM),
        text_font_style="bold italic", text_font_size="27px", text_color="#7f7f7f",
        text_align="center", text_baseline="middle")
pe.quad(left=[5, 353], right=[218, 640], top=[-52.4, -61.8], bottom=[-21.8, -29.4],
        fill_color=["#a6a6a6", "black"], line_color=None)
pe.text(x=[111, 497], y=[-36, -45], text=e_periods, text_font=value(SCHEM), text_font_size="30px",
        text_color="white", text_align="center", text_baseline="middle")
pe.quad(left=[5, 353], right=[110, 460], top=[-20.6, -28.2], bottom=[34.1, 34.1],
        fill_color="white", line_color="#ff0000", line_width=4)
pe.quad(left=[113, 538], right=[223, 647], top=[-20.6, -30.6], bottom=[34.1, 23.5],
        fill_color="white", line_color="#2a2aff", line_width=4)
pe.text(x=[50, 400], y=[-4, -11], text=["PSW", "PSW"], text_font=value(SCHEM), text_font_size="28px",
        text_color="#ff0000", text_align="center", text_baseline="middle")
pe.text(x=[54, 405], y=[18, 12], text=e_psw_sv, text_font=value(SCHEM), text_font_size="28px",
        text_color="#ff0000", text_align="center", text_baseline="middle")
pe.text(x=[168, 590], y=[-4, -14], text=["PWW", "PWW"], text_font=value(SCHEM), text_font_size="28px",
        text_color="#2a2aff", text_align="center", text_baseline="middle")
pe.text(x=[168, 590], y=[18, 8], text=e_pww_sv, text_font=value(SCHEM), text_font_size="28px",
        text_color="#2a2aff", text_align="center", text_baseline="middle")
pe.quad(left=[53, 385], right=[172, 485], top=[50, 44], bottom=[95.3, 90], fill_color="#ff0000", line_color=None)
pe.quad(left=[53, 490], right=[172, 610], top=[101.2, 32.4], bottom=[147, 79.4], fill_color="#0000e6", line_color=None)
pe.text(x=[112, 435], y=[64, 56], text=[p[0] for p in e_psw_props], text_font=value(SCHEM), text_font_style="bold",
        text_font_size="22px", text_color="white", text_align="center", text_baseline="middle")
pe.text(x=[112, 435], y=[84, 75], text=[p[1] for p in e_psw_props], text_font=value(SCHEM), text_font_style="bold",
        text_font_size="22px", text_color="white", text_align="center", text_baseline="middle")
pe.text(x=[112, 550], y=[116, 46], text=[p[0] for p in e_pww_props], text_font=value(SCHEM), text_font_style="bold",
        text_font_size="22px", text_color="white", text_align="center", text_baseline="middle")
pe.text(x=[112, 550], y=[135, 65], text=[p[1] for p in e_pww_props], text_font=value(SCHEM), text_font_style="bold",
        text_font_size="22px", text_color="white", text_align="center", text_baseline="middle")
for (xa, ya, yb, xb, c) in [(22, 34.1, 66.5, 53, "#ff0000"), (203, 34.1, 119.4, 172, "#2a2aff"),
                            (353, 34.1, 60, 385, "#ff0000"), (637, 23.5, 55.9, 610, "#2a2aff")]:
    pe.line([xa, xa, (xa + xb) / 2], [ya, yb, yb], line_color=c, line_width=4)
    pe.add_layout(Arrow(end=NormalHead(size=14, fill_color=c, line_color=c), x_start=xa, y_start=yb,
                        x_end=xb, y_end=yb, line_color=c, line_width=4))
pe.text(x=[665], y=[-66], text=["(e)"], text_font=value(FONT), text_font_size="18px",
        text_color="black", text_align="center", text_baseline="middle")

layout = column(row(pa, la), row(pb1, pb2, pb3, lb), row(pb4, pb5, pb6, Spacer(width=33, height=285)),
                row(pc, lc), row(column(pd_, pd2), pe))
open("out.html", "w").write(file_html(layout, INLINE))
